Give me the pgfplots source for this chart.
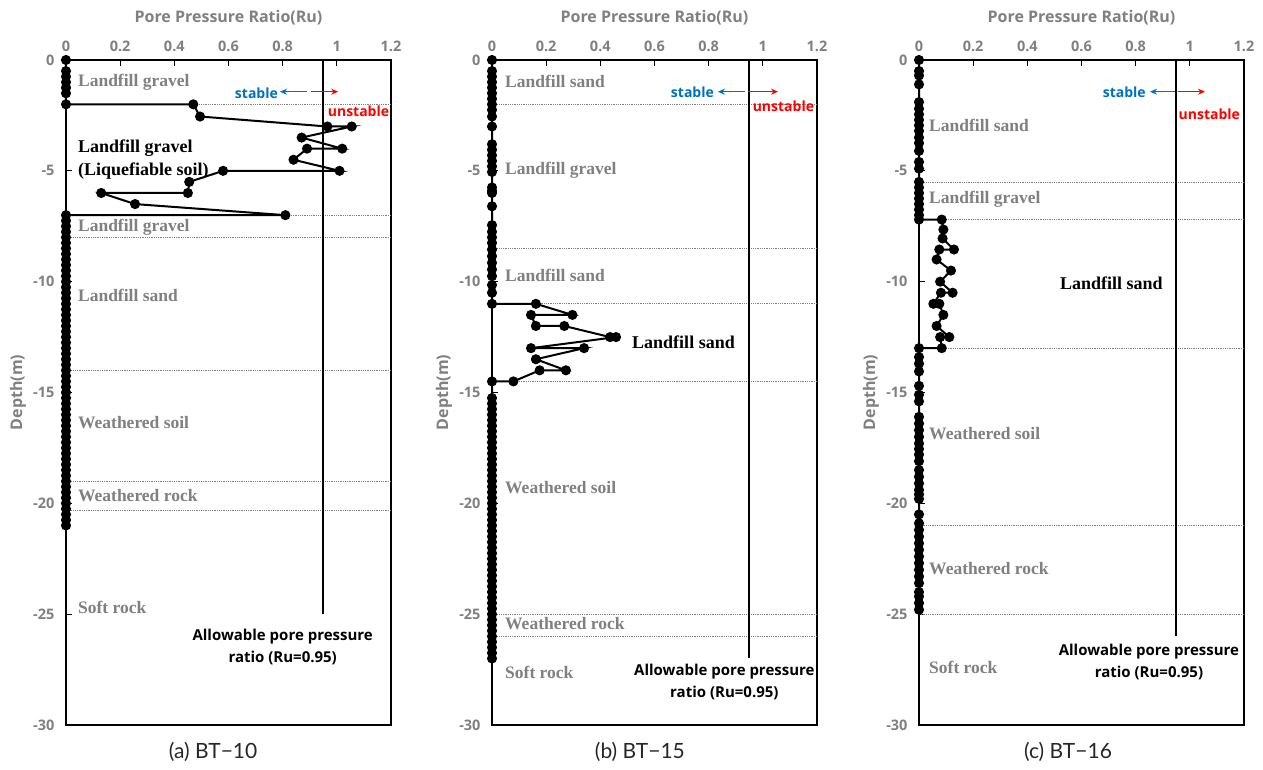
\documentclass[border=0pt]{standalone}
\usepackage{pgfplots}
\pgfplotsset{compat=1.18}
\usepackage{fontspec}
\setmainfont{Liberation Serif}
\newfontfamily\sansf{Open Sans}
\newfontfamily\capf{Lato}
\usetikzlibrary{arrows.meta}
\definecolor{tgray}{RGB}{128,128,128}
\definecolor{sblue}{RGB}{0,112,192}
\pgfplotsset{
 panel/.style={
  scale only axis, width=325pt, height=665pt,
  xmin=0,xmax=1.2,ymin=-30,ymax=0,
  clip=false,
  axis line style={black,line width=1.8pt},
  xtick={0,0.2,0.4,0.6,0.8,1,1.2},
  xticklabels={0,0.2,0.4,0.6,0.8,1,1.2},
  ytick={-30,-25,-20,-15,-10,-5,0},
  yticklabels={-30,-25,-20,-15,-10,-5,0},
  xtick pos=right, xticklabel pos=right, ytick pos=left,
  tick align=inside, major tick length=6pt,
  tick style={black,line width=1.3pt},
  ticklabel style={font=\sansf\bfseries\fontsize{14.5}{16}\selectfont, text=tgray},
  xticklabel shift=5pt, yticklabel shift=8pt,
  xlabel={Pore Pressure Ratio(Ru)}, ylabel={Depth(m)},
  label style={font=\sansf\bfseries\fontsize{16}{18}\selectfont, text=tgray},
  xlabel style={at={(axis description cs:0.5,1.063)},anchor=center},
  ylabel style={at={(axis description cs:-0.148,0.5)},anchor=center},
 },
 data/.style={black,line width=2pt,mark=*,mark size=4pt,mark options={solid,fill=black}},
 bound/.style={tgray,densely dotted,line width=0.8pt,forget plot},
 allow/.style={black,line width=1.8pt,forget plot},
}
\tikzset{
 lay/.style={font=\bfseries\fontsize{17.5}{19}\selectfont, text=tgray, anchor=west, inner sep=0pt},
 blay/.style={font=\bfseries\fontsize{18}{23}\selectfont, text=black, anchor=west, inner sep=0pt, align=left},
 stab/.style={font=\sansf\bfseries\fontsize{14}{15}\selectfont, text=sblue, inner sep=0pt},
 unstab/.style={font=\sansf\bfseries\fontsize{14}{15}\selectfont, text=red, inner sep=0pt},
 allowt/.style={font=\sansf\bfseries\fontsize{15}{22}\selectfont, text=black, align=center, inner sep=0pt},
 capt/.style={font=\capf\fontsize{21}{24}\selectfont, text=black!85, inner sep=0pt},
 arr/.style={line width=1.3pt,-{Stealth[length=7pt,width=6pt]}},
}
\begin{document}
\begin{tikzpicture}
\useasboundingbox (0,0) rectangle (1263pt,770pt);
% ---------------- (a) BT-10
\begin{axis}[panel, at={(66pt,45pt)}, anchor=south west]
\addplot[bound] coordinates {(0,-2) (1.2,-2)};
\addplot[bound] coordinates {(0,-7) (1.2,-7)};
\addplot[bound] coordinates {(0,-8) (1.2,-8)};
\addplot[bound] coordinates {(0,-14) (1.2,-14)};
\addplot[bound] coordinates {(0,-19) (1.2,-19)};
\addplot[bound] coordinates {(0,-20.3) (1.2,-20.3)};
\addplot[allow] coordinates {(0.95,0) (0.95,-25)};
\addplot[data] coordinates {
(0,0) (0,-0.5) (0,-0.75) (0,-1) (0,-1.25) (0,-1.5) (0,-2)
(0.47,-2) (0.495,-2.55) (0.965,-3) (1.055,-3) (0.87,-3.5) (1.02,-4) (0.89,-4)
(0.84,-4.5) (1.01,-5) (0.58,-5) (0.455,-5.5) (0.45,-6) (0.13,-6) (0.255,-6.5)
(0.81,-7) (0,-7)
(0,-7.25) (0,-7.5) (0,-7.75) (0,-8) (0,-8.25) (0,-8.5) (0,-8.75) (0,-9)
(0,-9.25) (0,-9.5) (0,-9.75) (0,-10) (0,-10.25) (0,-10.5) (0,-10.75) (0,-11)
(0,-11.25) (0,-11.5) (0,-11.75) (0,-12) (0,-12.25) (0,-12.5) (0,-12.75) (0,-13)
(0,-13.25) (0,-13.5) (0,-13.75) (0,-14) (0,-14.25) (0,-14.5) (0,-14.75) (0,-15)
(0,-15.25) (0,-15.5) (0,-15.75) (0,-16) (0,-16.25) (0,-16.5) (0,-16.75) (0,-17)
(0,-17.25) (0,-17.5) (0,-17.75) (0,-18) (0,-18.25) (0,-18.5) (0,-18.75) (0,-19)
(0,-19.25) (0,-19.5) (0,-19.75) (0,-20) (0,-20.25) (0,-20.5) (0,-20.75) (0,-21)
};
\node[lay] at (axis cs:0.044,-1.0) {Landfill gravel};
\node[blay] at (axis cs:0.044,-4.5) {Landfill gravel\\(Liquefiable soil)};
\node[lay] at (axis cs:0.044,-7.53) {Landfill gravel};
\node[lay] at (axis cs:0.044,-10.6) {Landfill sand};
\node[lay] at (axis cs:0.044,-16.37) {Weathered soil};
\node[lay] at (axis cs:0.044,-19.67) {Weathered rock};
\node[lay] at (axis cs:0.044,-24.7) {Soft rock};
\draw[sblue,arr] (axis cs:0.89,-1.43) -- (axis cs:0.79,-1.43);
\draw[red,arr] (axis cs:0.905,-1.43) -- (axis cs:1.005,-1.43);
\node[stab,anchor=east] at (axis cs:0.783,-1.49) {stable};
\node[unstab] at (axis cs:1.08,-2.3) {unstable};
\node[allowt] at (axis cs:0.80,-26.48) {Allowable pore pressure\\ratio (Ru=0.95)};
\node[capt] at (axis cs:0.543,-31.2) {(a) BT−10};
\end{axis}
% ---------------- (b) BT-15
\begin{axis}[panel, at={(492pt,45pt)}, anchor=south west]
\addplot[bound] coordinates {(0,-2) (1.2,-2)};
\addplot[bound] coordinates {(0,-8.5) (1.2,-8.5)};
\addplot[bound] coordinates {(0,-11) (1.2,-11)};
\addplot[bound] coordinates {(0,-14.5) (1.2,-14.5)};
\addplot[bound] coordinates {(0,-25) (1.2,-25)};
\addplot[bound] coordinates {(0,-26) (1.2,-26)};
\addplot[allow] coordinates {(0.95,0) (0.95,-27)};
\addplot[data] coordinates {
(0,0) (0,-0.5) (0,-0.75) (0,-1) (0,-1.25) (0,-1.5) (0,-1.75) (0,-2) (0,-2.25)
(0,-2.55) (0,-3) (0,-3.8) (0,-4.05) (0,-4.3) (0,-4.55) (0,-4.8) (0,-5.05)
(0,-5.75) (0,-5.9) (0,-6) (0,-6.6) (0,-7.45) (0,-7.75) (0,-8) (0,-8.25)
(0,-8.55) (0,-8.85) (0,-9.15) (0,-9.45) (0,-9.75) (0,-10.15) (0,-10.5) (0,-11)
(0.162,-11) (0.297,-11.5) (0.144,-11.5) (0.162,-12) (0.267,-12) (0.436,-12.5)
(0.458,-12.5) (0.144,-13) (0.34,-13) (0.162,-13.5) (0.273,-14) (0.176,-14)
(0.079,-14.5) (0,-14.5)
(0,-15.25) (0,-15.5) (0,-15.75) (0,-16) (0,-16.25) (0,-16.5) (0,-16.75) (0,-17)
(0,-17.25) (0,-17.5) (0,-17.75) (0,-18) (0,-18.25) (0,-18.5) (0,-18.75) (0,-19)
(0,-19.25) (0,-19.5) (0,-19.75) (0,-20) (0,-20.25) (0,-20.5) (0,-20.75) (0,-21)
(0,-21.25) (0,-21.5) (0,-21.75) (0,-22) (0,-22.25) (0,-22.5) (0,-22.75) (0,-23)
(0,-23.25) (0,-23.5) (0,-23.75) (0,-24) (0,-24.25) (0,-24.5) (0,-24.75) (0,-25)
(0,-25.25) (0,-25.5) (0,-25.75) (0,-26) (0,-26.25) (0,-26.5) (0,-26.75) (0,-27)
};
\node[lay] at (axis cs:0.048,-0.95) {Landfill sand};
\node[lay] at (axis cs:0.048,-4.96) {Landfill gravel};
\node[lay] at (axis cs:0.048,-9.7) {Landfill sand};
\node[blay] at (axis cs:0.517,-12.72) {Landfill sand};
\node[lay] at (axis cs:0.048,-19.3) {Weathered soil};
\node[lay] at (axis cs:0.048,-25.44) {Weathered rock};
\node[lay] at (axis cs:0.048,-27.65) {Soft rock};
\draw[sblue,arr] (axis cs:0.934,-1.43) -- (axis cs:0.834,-1.43);
\draw[red,arr] (axis cs:0.945,-1.43) -- (axis cs:1.056,-1.43);
\node[stab,anchor=east] at (axis cs:0.82,-1.44) {stable};
\node[unstab] at (axis cs:1.076,-2.07) {unstable};
\node[allowt] at (axis cs:0.858,-28.06) {Allowable pore pressure\\ratio (Ru=0.95)};
\node[capt] at (axis cs:0.546,-31.2) {(b) BT−15};
\end{axis}
% ---------------- (c) BT-16
\begin{axis}[panel, at={(919pt,45pt)}, anchor=south west]
\addplot[bound] coordinates {(0,-5.5) (1.2,-5.5)};
\addplot[bound] coordinates {(0,-7.2) (1.2,-7.2)};
\addplot[bound] coordinates {(0,-13) (1.2,-13)};
\addplot[bound] coordinates {(0,-21) (1.2,-21)};
\addplot[bound] coordinates {(0,-25) (1.2,-25)};
\addplot[allow] coordinates {(0.95,0) (0.95,-26)};
\addplot[data] coordinates {
(0,0) (0,-0.5) (0,-0.7) (0,-1.1) (0,-1.9) (0,-2.2) (0,-2.45) (0,-2.7) (0,-2.95)
(0,-3.2) (0,-3.5) (0,-3.75) (0,-4.1) (0,-4.6) (0,-4.9) (0,-5.5) (0,-5.75)
(0,-6) (0,-6.25) (0,-6.5) (0,-6.75) (0,-7) (0,-7.2)
(0.084,-7.2) (0.09,-7.65) (0.087,-8.05) (0.129,-8.55) (0.075,-8.55) (0.065,-9)
(0.118,-9.5) (0.078,-10) (0.124,-10.5) (0.081,-10.5) (0.053,-11) (0.075,-11)
(0.09,-11.5) (0.065,-12) (0.112,-12.5) (0.078,-12.5) (0.084,-13) (0,-13)
(0,-13.4) (0,-13.7) (0,-14.05) (0,-14.7) (0,-15.1) (0,-15.4) (0,-16.1) (0,-16.4)
(0,-16.7) (0,-17) (0,-17.3) (0,-17.55) (0,-17.8) (0,-18.1) (0,-18.5) (0,-18.8)
(0,-19.1) (0,-19.4) (0,-19.6) (0,-19.8) (0,-20.5) (0,-20.9) (0,-21.2) (0,-21.5)
(0,-21.8) (0,-22.1) (0,-22.4) (0,-22.7) (0,-23) (0,-23.3) (0,-23.6) (0,-24)
(0,-24.2) (0,-24.5) (0,-24.8)
};
\node[lay] at (axis cs:0.037,-2.93) {Landfill sand};
\node[lay] at (axis cs:0.037,-6.3) {Landfill gravel};
\node[blay] at (axis cs:0.52,-10.06) {Landfill sand};
\node[lay] at (axis cs:0.037,-16.87) {Weathered soil};
\node[lay] at (axis cs:0.037,-22.96) {Weathered rock};
\node[lay] at (axis cs:0.037,-27.4) {Soft rock};
\draw[sblue,arr] (axis cs:0.945,-1.43) -- (axis cs:0.853,-1.43);
\draw[red,arr] (axis cs:0.955,-1.43) -- (axis cs:1.056,-1.43);
\node[stab,anchor=east] at (axis cs:0.838,-1.44) {stable};
\node[unstab] at (axis cs:1.072,-2.44) {unstable};
\node[allowt] at (axis cs:0.849,-27.15) {Allowable pore pressure\\ratio (Ru=0.95)};
\node[capt] at (axis cs:0.55,-31.2) {(c) BT−16};
\end{axis}
\end{tikzpicture}
\end{document}
